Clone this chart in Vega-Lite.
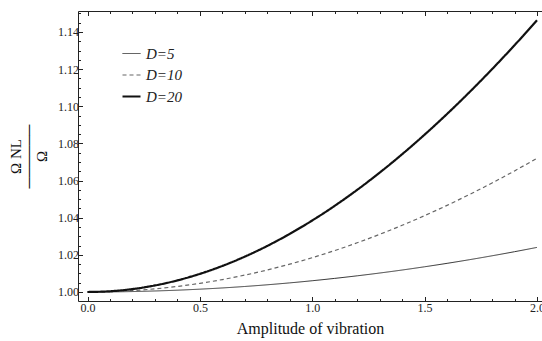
{
  "$schema": "https://vega.github.io/schema/vega-lite/v6.json",
  "width": 464,
  "height": 290,
  "autosize": {"type": "none"},
  "padding": {"left": 78, "top": 11, "right": 0, "bottom": 40},
  "config": {
    "view": {"stroke": "#222", "strokeWidth": 1},
    "font": "Liberation Serif"
  },
  "data": {
    "values": [
      {"a": 0.0, "D": "D=5", "r": 1.00000}, {"a": 0.1, "D": "D=5", "r": 1.00006}, {"a": 0.2, "D": "D=5", "r": 1.00024},
      {"a": 0.3, "D": "D=5", "r": 1.00055}, {"a": 0.4, "D": "D=5", "r": 1.00097}, {"a": 0.5, "D": "D=5", "r": 1.00152},
      {"a": 0.6, "D": "D=5", "r": 1.00218}, {"a": 0.7, "D": "D=5", "r": 1.00297}, {"a": 0.8, "D": "D=5", "r": 1.00388},
      {"a": 0.9, "D": "D=5", "r": 1.00491}, {"a": 1.0, "D": "D=5", "r": 1.00606}, {"a": 1.1, "D": "D=5", "r": 1.00733},
      {"a": 1.2, "D": "D=5", "r": 1.00871}, {"a": 1.3, "D": "D=5", "r": 1.01021}, {"a": 1.4, "D": "D=5", "r": 1.01183},
      {"a": 1.5, "D": "D=5", "r": 1.01358}, {"a": 1.6, "D": "D=5", "r": 1.01543}, {"a": 1.7, "D": "D=5", "r": 1.01740},
      {"a": 1.8, "D": "D=5", "r": 1.01949}, {"a": 1.9, "D": "D=5", "r": 1.02169}, {"a": 2.0, "D": "D=5", "r": 1.02401},
      {"a": 0.0, "D": "D=10", "r": 1.00000}, {"a": 0.1, "D": "D=10", "r": 1.00019}, {"a": 0.2, "D": "D=10", "r": 1.00075},
      {"a": 0.3, "D": "D=10", "r": 1.00168}, {"a": 0.4, "D": "D=10", "r": 1.00298}, {"a": 0.5, "D": "D=10", "r": 1.00465},
      {"a": 0.6, "D": "D=10", "r": 1.00669}, {"a": 0.7, "D": "D=10", "r": 1.00910}, {"a": 0.8, "D": "D=10", "r": 1.01186},
      {"a": 0.9, "D": "D=10", "r": 1.01499}, {"a": 1.0, "D": "D=10", "r": 1.01848}, {"a": 1.1, "D": "D=10", "r": 1.02232},
      {"a": 1.2, "D": "D=10", "r": 1.02650}, {"a": 1.3, "D": "D=10", "r": 1.03104}, {"a": 1.4, "D": "D=10", "r": 1.03591},
      {"a": 1.5, "D": "D=10", "r": 1.04112}, {"a": 1.6, "D": "D=10", "r": 1.04666}, {"a": 1.7, "D": "D=10", "r": 1.05252},
      {"a": 1.8, "D": "D=10", "r": 1.05870}, {"a": 1.9, "D": "D=10", "r": 1.06520}, {"a": 2.0, "D": "D=10", "r": 1.07201},
      {"a": 0.0, "D": "D=20", "r": 1.00000}, {"a": 0.1, "D": "D=20", "r": 1.00039}, {"a": 0.2, "D": "D=20", "r": 1.00157},
      {"a": 0.3, "D": "D=20", "r": 1.00353}, {"a": 0.4, "D": "D=20", "r": 1.00626}, {"a": 0.5, "D": "D=20", "r": 1.00976},
      {"a": 0.6, "D": "D=20", "r": 1.01403}, {"a": 0.7, "D": "D=20", "r": 1.01905}, {"a": 0.8, "D": "D=20", "r": 1.02481},
      {"a": 0.9, "D": "D=20", "r": 1.03130}, {"a": 1.0, "D": "D=20", "r": 1.03851}, {"a": 1.1, "D": "D=20", "r": 1.04641},
      {"a": 1.2, "D": "D=20", "r": 1.05501}, {"a": 1.3, "D": "D=20", "r": 1.06427}, {"a": 1.4, "D": "D=20", "r": 1.07418},
      {"a": 1.5, "D": "D=20", "r": 1.08472}, {"a": 1.6, "D": "D=20", "r": 1.09588}, {"a": 1.7, "D": "D=20", "r": 1.10764},
      {"a": 1.8, "D": "D=20", "r": 1.11997}, {"a": 1.9, "D": "D=20", "r": 1.13286}, {"a": 2.0, "D": "D=20", "r": 1.14630}
    ]
  },
  "layer": [
    {
      "mark": {"type": "line", "interpolate": "monotone", "clip": true},
      "encoding": {
        "x": {
          "field": "a", "type": "quantitative",
          "scale": {"domain": [-0.0423, 2.0223], "nice": false, "zero": false},
          "axis": {
            "orient": "bottom",
            "values": [0, 0.1, 0.2, 0.3, 0.4, 0.5, 0.6, 0.7, 0.8, 0.9, 1, 1.1, 1.2, 1.3, 1.4, 1.5, 1.6, 1.7, 1.8, 1.9, 2],
            "labelExpr": "abs(datum.value*2 - round(datum.value*2)) < 0.001 ? format(datum.value, '.1f') : ''",
            "labelOverlap": false, "labelFlush": false,
            "tickSize": {"condition": {"test": "abs(datum.value*2 - round(datum.value*2)) < 0.001", "value": -4.5}, "value": -2.5},
            "tickColor": "#222", "tickWidth": 1,
            "domain": false, "grid": false,
            "labelFont": "Liberation Serif", "labelFontSize": 12, "labelColor": "#222", "labelPadding": 6,
            "title": "Amplitude of vibration", "titleFont": "Liberation Serif", "titleFontSize": 16,
            "titleFontWeight": "normal", "titleColor": "#111", "titlePadding": 5
          }
        },
        "y": {
          "field": "r", "type": "quantitative",
          "scale": {"domain": [0.99515, 1.1513], "nice": false, "zero": false},
          "axis": {
            "orient": "left",
            "values": [1, 1.005, 1.01, 1.015, 1.02, 1.025, 1.03, 1.035, 1.04, 1.045, 1.05, 1.055, 1.06, 1.065, 1.07, 1.075, 1.08, 1.085, 1.09, 1.095, 1.1, 1.105, 1.11, 1.115, 1.12, 1.125, 1.13, 1.135, 1.14, 1.145, 1.15],
            "labelExpr": "abs(datum.value*50 - round(datum.value*50)) < 0.001 ? format(datum.value, '.2f') : ''",
            "labelOverlap": false, "labelFlush": false,
            "tickSize": {"condition": {"test": "abs(datum.value*50 - round(datum.value*50)) < 0.001", "value": -4.5}, "value": -2.5},
            "tickColor": "#222", "tickWidth": 1,
            "domain": false, "grid": false,
            "labelFont": "Liberation Serif", "labelFontSize": 12, "labelColor": "#222", "labelPadding": 4,
            "title": ["Ω NL", "──────", "Ω"], "titleFont": "Liberation Serif", "titleFontSize": 15,
            "titleFontWeight": "normal", "titleColor": "#111", "titlePadding": 8, "titleLineHeight": 13
          }
        },
        "color": {
          "field": "D", "type": "nominal",
          "scale": {"domain": ["D=5", "D=10", "D=20"], "range": ["#333333", "#666666", "#111111"]},
          "legend": {
            "orient": "none", "legendX": 43, "legendY": 33, "title": null,
            "symbolType": "stroke", "symbolSize": 324,
            "labelFont": "Liberation Serif", "labelFontStyle": "italic", "labelFontSize": 15,
            "labelColor": "#222", "labelOffset": 4, "rowPadding": 3
          }
        },
        "strokeDash": {
          "field": "D", "type": "nominal",
          "scale": {"domain": ["D=5", "D=10", "D=20"], "range": [[1, 0], [4, 3], [1, 0]]},
          "legend": {
            "orient": "none", "legendX": 43, "legendY": 33, "title": null,
            "symbolType": "stroke", "symbolSize": 324,
            "labelFont": "Liberation Serif", "labelFontStyle": "italic", "labelFontSize": 15,
            "labelColor": "#222", "labelOffset": 4, "rowPadding": 3
          }
        },
        "strokeWidth": {
          "field": "D", "type": "nominal",
          "scale": {"type": "ordinal", "domain": ["D=5", "D=10", "D=20"], "range": [1, 1.2, 2.2]},
          "legend": {
            "orient": "none", "legendX": 43, "legendY": 33, "title": null,
            "symbolType": "stroke", "symbolSize": 324,
            "labelFont": "Liberation Serif", "labelFontStyle": "italic", "labelFontSize": 15,
            "labelColor": "#222", "labelOffset": 4, "rowPadding": 3
          }
        }
      }
    },
    {
      "mark": {"type": "line", "opacity": 0},
      "encoding": {
        "x": {
          "field": "a", "type": "quantitative",
          "axis": {
            "orient": "top",
            "values": [0, 0.1, 0.2, 0.3, 0.4, 0.5, 0.6, 0.7, 0.8, 0.9, 1, 1.1, 1.2, 1.3, 1.4, 1.5, 1.6, 1.7, 1.8, 1.9, 2],
            "labels": false,
            "tickSize": {"condition": {"test": "abs(datum.value*2 - round(datum.value*2)) < 0.001", "value": -4.5}, "value": -2.5},
            "tickColor": "#222", "tickWidth": 1,
            "domain": false, "grid": false, "title": null
          }
        },
        "y": {"field": "r", "type": "quantitative", "axis": null}
      }
    }
  ],
  "resolve": {"axis": {"x": "independent", "y": "independent"}}
}
